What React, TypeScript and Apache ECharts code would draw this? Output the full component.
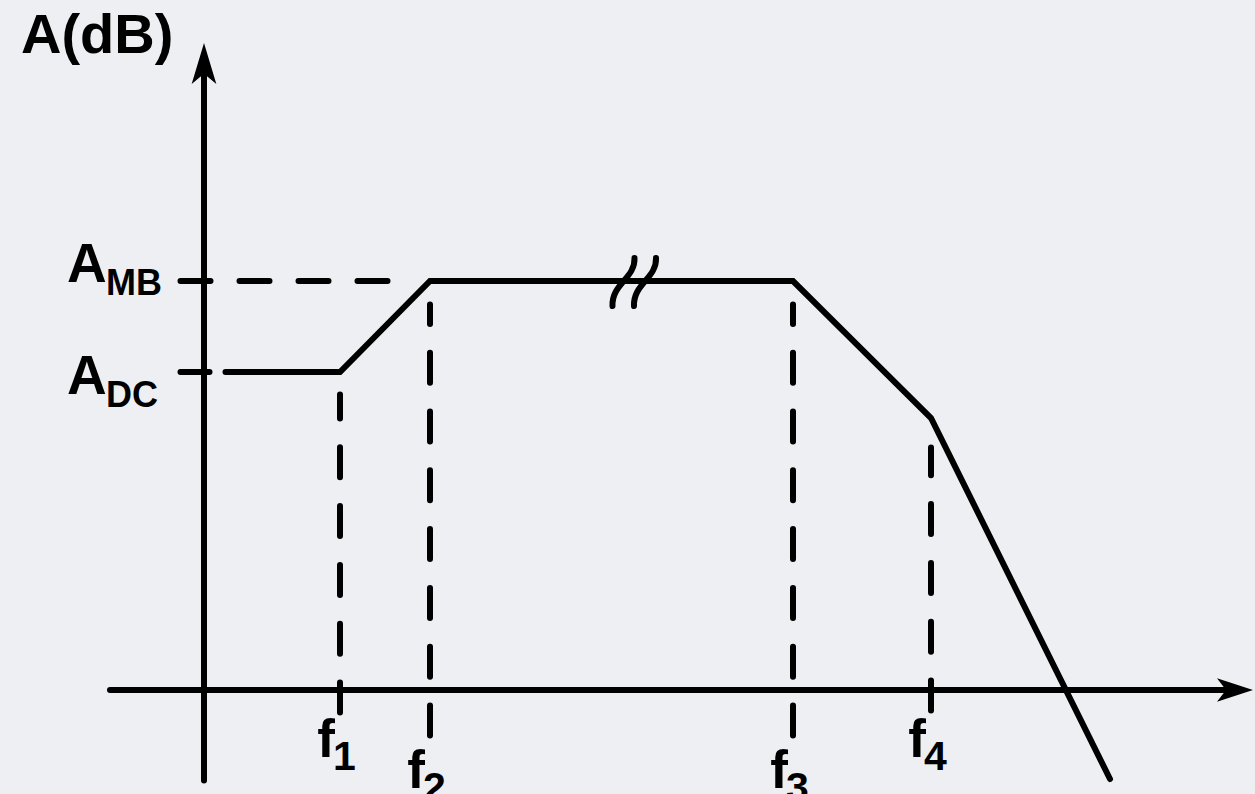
import React, { useEffect, useRef } from "react";
import * as echarts from "echarts";

const FONT = '"Liberation Sans", Arial, Helvetica, sans-serif';
const INK = "#000000";
const PAPER = "#eeeff2";
const LINE_W = 6;

// Gain levels (dB, schematic units)
const A_MB = 40.9;
const A_DC = 31.8;

// Corner frequencies f1..f4 on the frequency axis
const CORNER_FREQS = [13.6, 22.6, 58.9, 72.7];
const CORNER_SUBS = ["1", "2", "3", "4"];

// Asymptotic magnitude response
const RESPONSE_F = [2.15, 13.6, 22.6, 58.9, 72.7, 90.6];
const RESPONSE_A = [31.8, 31.8, 40.9, 40.9, 27.2, -8.9];

// Drop lines under each corner: lower and upper ends
const DROP_LOW = [-2.25, -4.55, -4.55, -2.05];
const DROP_HIGH = [29.55, 38.55, 38.55, 24.25];

// Extent of the A_MB guide and the A_DC tick along the frequency axis
const MB_GUIDE_F = [-2.35, 18.35];
const DC_TICK_F = [-2.35, 0.55];

// Axis-break marks on the mid-band plateau
const BREAK_F = [41.95, 44.1];

// Level labels on the gain axis
const LEVEL_VALUES = [A_MB, A_DC];
const LEVEL_SUBS = ["MB", "DC"];

// Visible axis ranges (the arrowheads sit beyond these ends)
const X_RANGE = [-9.4, 103.4];
const Y_RANGE = [-9.05, 63.2];

// Label layout (pixels)
const ARROW_SHIFT = 15;
const LEVEL_A_BASE = [1, 22]; // baseline of "A" below the level line
const FREQ_DROP = [0, 31, 31, 0]; // extra downward shift of f labels
const MAIN_FS = 55;
const SUB_FS = 36;
const F_FS = 53;
const DIGIT_FS = 41;
const MID = 0.3465; // central-to-alphabetic baseline offset, in em

const bold = (size: number) => `bold ${size}px ${FONT}`;

const dashedDrop = (i: number) => ({
  type: "line",
  data: [
    [CORNER_FREQS[i], DROP_LOW[i]],
    [CORNER_FREQS[i], DROP_HIGH[i]],
  ],
  symbol: "none",
  silent: true,
  lineStyle: { color: INK, width: LINE_W, type: [30, 28.8], cap: "round" },
  z: 3,
});

const axisCommon = {
  type: "value",
  axisTick: { show: false },
  axisLabel: { show: false },
  splitLine: { show: false },
};

const option: any = {
  animation: false,
  backgroundColor: PAPER,
  grid: { left: 110, right: 17, top: 58, bottom: 13.5 },
  xAxis: {
    ...axisCommon,
    min: X_RANGE[0],
    max: X_RANGE[1],
    axisLine: {
      show: true,
      onZero: true,
      symbol: ["none", "arrow"],
      symbolSize: [17.5, 36],
      symbolOffset: [0, ARROW_SHIFT],
      lineStyle: { color: INK, width: LINE_W, cap: "round" },
    },
  },
  yAxis: {
    ...axisCommon,
    min: Y_RANGE[0],
    max: Y_RANGE[1],
    axisLine: {
      show: true,
      onZero: true,
      symbol: ["none", "arrow"],
      symbolSize: [18.5, 41],
      symbolOffset: [0, ARROW_SHIFT],
      lineStyle: { color: INK, width: LINE_W, cap: "round" },
    },
  },
  graphic: [
    {
      type: "text",
      x: 21,
      y: 53 - MID * 56,
      silent: true,
      style: { text: "A(dB)", font: bold(56), fill: INK, align: "left", verticalAlign: "middle" },
    },
  ],
  series: [
    {
      type: "line",
      data: RESPONSE_F.map((f, i) => [f, RESPONSE_A[i]]),
      symbol: "none",
      silent: true,
      lineStyle: { color: INK, width: LINE_W, cap: "round", join: "miter" },
      z: 4,
    },
    {
      type: "line",
      data: MB_GUIDE_F.map((f) => [f, A_MB]),
      symbol: "none",
      silent: true,
      lineStyle: { color: INK, width: LINE_W, type: [30, 29], cap: "round" },
      z: 3,
    },
    {
      type: "line",
      data: DC_TICK_F.map((f) => [f, A_DC]),
      symbol: "none",
      silent: true,
      lineStyle: { color: INK, width: LINE_W, cap: "round" },
      z: 3,
    },
    ...CORNER_FREQS.map((_, i) => dashedDrop(i)),
    {
      type: "custom",
      silent: true,
      z: 5,
      data: BREAK_F.map((f) => [f, A_MB]),
      renderItem: (_p: any, api: any) => {
        const [cx, cy] = api.coord([api.value(0), api.value(1)]);
        return {
          type: "bezierCurve",
          shape: {
            x1: cx + 11,
            y1: cy - 23,
            cpx1: cx + 12,
            cpy1: cy - 3,
            cpx2: cx - 12,
            cpy2: cy + 3,
            x2: cx - 11,
            y2: cy + 25,
          },
          style: { stroke: INK, lineWidth: LINE_W, fill: "none", lineCap: "round" },
        };
      },
    },
    {
      type: "custom",
      silent: true,
      z: 6,
      data: LEVEL_VALUES.map((v) => [0, v]),
      renderItem: (p: any, api: any) => {
        const i = p.dataIndex;
        const [ax, ay] = api.coord([api.value(0), api.value(1)]);
        const base = ay + LEVEL_A_BASE[i];
        return {
          type: "group",
          children: [
            {
              type: "text",
              x: ax - 137,
              y: base - MID * MAIN_FS,
              style: { text: "A", font: bold(MAIN_FS), fill: INK, align: "left", verticalAlign: "middle" },
            },
            {
              type: "text",
              x: ax - 98,
              y: base + 13 - MID * SUB_FS,
              style: { text: LEVEL_SUBS[i], font: bold(SUB_FS), fill: INK, align: "left", verticalAlign: "middle" },
            },
          ],
        };
      },
    },
    {
      type: "custom",
      silent: true,
      z: 6,
      data: CORNER_FREQS.map((f) => [f, 0]),
      renderItem: (p: any, api: any) => {
        const i = p.dataIndex;
        const [fx, fy] = api.coord([api.value(0), api.value(1)]);
        const drop = FREQ_DROP[i];
        return {
          type: "group",
          children: [
            {
              type: "text",
              x: fx - 5,
              y: fy + 67 + drop - MID * F_FS,
              style: { text: "f", font: bold(F_FS), fill: INK, align: "right", verticalAlign: "middle" },
            },
            {
              type: "text",
              x: fx - 7,
              y: fy + 80 + drop - MID * DIGIT_FS,
              style: { text: CORNER_SUBS[i], font: bold(DIGIT_FS), fill: INK, align: "left", verticalAlign: "middle" },
            },
          ],
        };
      },
    },
  ],
};

export default function App() {
  const ref = useRef<HTMLDivElement>(null);
  useEffect(() => {
    const chart = echarts.init(ref.current!, null, { renderer: "svg" });
    chart.setOption(option);
    return () => chart.dispose();
  }, []);
  return (
    <div
      ref={ref}
      style={{ position: "fixed", left: 0, top: 0, width: 1255, height: 794, background: PAPER }}
    />
  );
}
